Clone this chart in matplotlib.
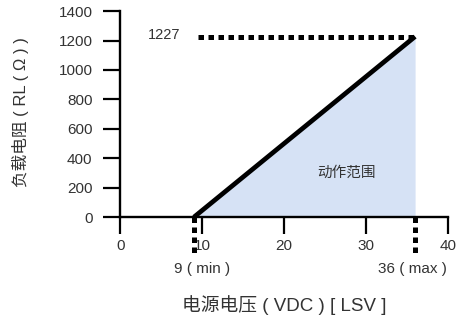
import matplotlib.pyplot as plt

plt.rcParams['font.family'] = ['Liberation Sans', 'Noto Sans CJK SC', 'DejaVu Sans']

# data
v_min = 9
v_max = 36
r_max = 1227
voltage = [v_min, v_max]
resistance = [0, r_max]
x_ticks = [0, 10, 20, 30, 40]
y_ticks = [0, 200, 400, 600, 800, 1000, 1200, 1400]

txt = '#333333'

fig = plt.figure(figsize=(4.57, 3.17), dpi=100)
ax = fig.add_axes([0.263, 0.315, 0.717, 0.65])

ax.fill_between(voltage, resistance, 0, color='#d6e2f5', lw=0)
ax.plot(voltage, resistance, color='black', lw=3.4, solid_capstyle='butt')

# dotted guides
dots = dict(color='black', lw=3.6, dashes=(1.1, 0.9), dash_capstyle='butt')
ax.plot([v_min + 0.5, v_max], [r_max, r_max], **dots)
for v in (v_min, v_max):
    ax.plot([v, v], [0, -270], clip_on=False, **dots)

ax.text(7.3, r_max + 10, '1227', ha='right', va='center', fontsize=10.5, color=txt)
ax.text(27.6, 300, '动作范围', ha='center', va='center', fontsize=10.5, color=txt)
ax.text(10, -355, '9 ( min )', ha='center', va='center', fontsize=11, color=txt)
ax.text(35.7, -355, '36 ( max )', ha='center', va='center', fontsize=11, color=txt)

ax.set_xlim(0, 40)
ax.set_ylim(0, 1400)
ax.set_xticks(x_ticks)
ax.set_yticks(y_ticks)
ax.tick_params(direction='out', length=12, width=1.6, labelsize=11,
               labelcolor=txt)
ax.tick_params(axis='y', pad=8)
ax.tick_params(axis='x', pad=4)
for s in ('top', 'right'):
    ax.spines[s].set_visible(False)
for s in ('left', 'bottom'):
    ax.spines[s].set_linewidth(1.7)

ax.set_xlabel('电源电压 ( VDC ) [ LSV ]', fontsize=13.5, color=txt)
ax.set_ylabel('负载电阻 ( RL ( Ω ) )', fontsize=12, color=txt)
ax.xaxis.set_label_coords(0.5, -0.427)
ax.xaxis.label.set_va('center')
ax.yaxis.set_label_coords(-0.305, 0.51)
ax.yaxis.label.set_va('center')

fig.savefig('out.png', dpi=100)
